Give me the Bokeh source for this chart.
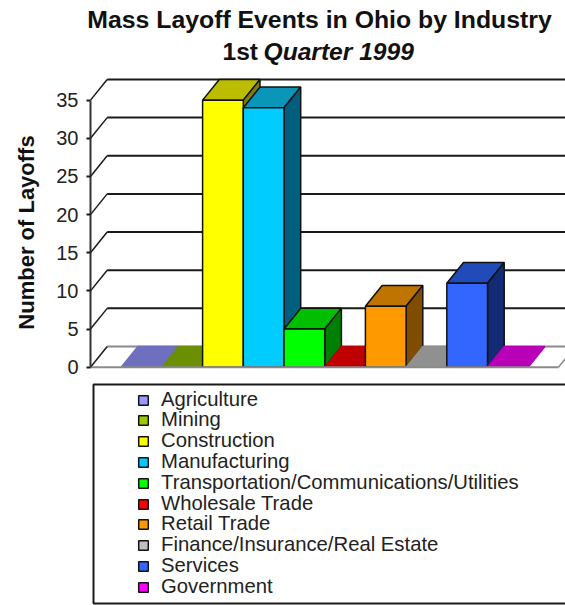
from bokeh.plotting import figure
from bokeh.embed import file_html
from bokeh.resources import INLINE
from bokeh.models import Range1d, Legend, LegendItem, Label, BoxAnnotation, FixedTicker

industries = ["Agriculture", "Mining", "Construction", "Manufacturing",
              "Transportation/Communications/Utilities", "Wholesale Trade",
              "Retail Trade", "Finance/Insurance/Real Estate", "Services", "Government"]
layoffs = [0, 0, 35, 34, 5, 0, 8, 0, 11, 0]
front_colors = ["#9999ff", "#99cc00", "#ffff00", "#00ccff", "#00ff00",
                "#ff0000", "#ff9900", "#c0c0c0", "#3366ff", "#ff00ff"]
top_colors = ["#6f6fbf", "#6b8f00", "#bdbd00", "#0996b8", "#00bf00",
              "#c00000", "#bf7300", "#909090", "#204bb8", "#b800b8"]
side_colors = ["#4d4d80", "#4d6600", "#808000", "#005f7f", "#008000",
               "#800000", "#7f4c00", "#606060", "#132a75", "#800080"]
y_ticks = [0, 5, 10, 15, 20, 25, 30, 35]

# layout, in pixels of the picture
W, H = 565, 605
AX_LEFT, FLOOR_Y = 90, 366.7
BAND, FIRST = 40.7, 120.7
UNIT = 7.63
DEPTH_X, DEPTH_Y = 16.7 / BAND, 20.7 / UNIT
DARK = "#1a1a1a"
GREY = "#8a8a8a"
FONT = "Liberation Sans"


def X(px):
    return (px - FIRST) / BAND


def Y(py):
    return (FLOOR_Y - py) / UNIT


p = figure(width=W, height=H, output_backend="svg", toolbar_location=None,
           x_range=Range1d(X(0), X(W)), y_range=Range1d(Y(H), Y(0)),
           min_border_left=0, min_border_right=0, min_border_top=0, min_border_bottom=0,
           outline_line_color=None, background_fill_color="white")
p.xaxis.visible = False
p.xgrid.visible = False
p.ygrid.visible = False

ax = p.yaxis[0]
ax.fixed_location = X(AX_LEFT)
ax.ticker = FixedTicker(ticks=y_ticks)
ax.bounds = (0, 35)
ax.major_label_text_font = FONT
ax.major_label_text_font_size = "20px"
ax.major_label_text_color = "#222222"
ax.axis_line_color = "#333333"
ax.axis_line_width = 2
ax.major_tick_line_color = DARK
ax.major_tick_line_width = 2
ax.major_tick_in = 0
ax.major_tick_out = 4
ax.minor_tick_line_color = None
ax.major_label_standoff = 8

x0 = X(AX_LEFT)
xe = X(558)
xr = X(W)
# back wall and side-wall lines
for v in y_ticks:
    top = v + DEPTH_Y
    col = GREY if v == 0 else DARK
    p.line([x0 + DEPTH_X, xr], [top, top], line_color=col, line_width=2)
    p.line([x0, x0 + DEPTH_X], [v, top], line_color=DARK, line_width=1.5)
p.line([xe, xr], [0, (W - 558) / BAND / DEPTH_X * DEPTH_Y], line_color=GREY, line_width=1.5)

swatches = []
for i, (name, v) in enumerate(zip(industries, layoffs)):
    edge = "#111111" if v > 0 else top_colors[i]
    p.patch([i, i + 1, i + 1 + DEPTH_X, i + DEPTH_X], [v, v, v + DEPTH_Y, v + DEPTH_Y],
            fill_color=top_colors[i], line_color=edge, line_width=1.5)
    if v > 0:
        p.patch([i + 1, i + 1, i + 1 + DEPTH_X, i + 1 + DEPTH_X], [0, v, v + DEPTH_Y, DEPTH_Y],
                fill_color=side_colors[i], line_color=edge, line_width=1.5)
        p.vbar(x=[i + 0.5], width=1, bottom=0, top=[v], fill_color=front_colors[i],
               line_color="#111111", line_width=1.5)
    # swatch carrier: no mark in the plot, only the legend's key
    swatches.append(p.vbar(x=[float("nan")], width=1, bottom=0, top=[v], fill_color=front_colors[i],
                           line_color="#111111", line_width=1.5))

p.line([x0, xe], [0, 0], line_color=GREY, line_width=2)

# legend frame
p.add_layout(BoxAnnotation(left=X(93), right=X(566), top=Y(384), bottom=Y(603),
                           fill_color="white", fill_alpha=1, line_color=DARK, line_alpha=1,
                           line_width=2, level="overlay"))
# one single-row legend per industry: Bokeh will not set rows closer than the text's own height
for i, (name, r) in enumerate(zip(industries, swatches)):
    center = 399 + 20.8 * i
    p.add_layout(Legend(items=[LegendItem(label=name, renderers=[r])],
                        location=(137, round(H - center - 11.5)), padding=0, margin=0, spacing=0,
                        border_line_color=None, background_fill_alpha=0,
                        glyph_width=12, glyph_height=12, label_standoff=12, label_height=20,
                        label_text_font=FONT, label_text_font_size="20.3px",
                        label_text_color="#222222", level="overlay"))

p.add_layout(Label(x=X(319), y=Y(19), text="Mass Layoff Events in Ohio by Industry", text_font=FONT,
                   text_font_size="24.8px", text_font_style="bold", text_align="center",
                   text_baseline="middle", text_color="#111111"))
p.add_layout(Label(x=X(222), y=Y(51), text="1st", text_font=FONT, text_font_size="24.6px",
                   text_font_style="bold", text_align="left", text_baseline="middle", text_color="#111111"))
p.add_layout(Label(x=X(263), y=Y(51), text="Quarter 1999", text_font=FONT, text_font_size="24.6px",
                   text_font_style="bold italic", text_align="left", text_baseline="middle", text_color="#111111"))
p.add_layout(Label(x=X(26), y=Y(232), text="Number of Layoffs", text_font=FONT, text_font_size="22px",
                   text_font_style="bold", text_align="center", text_baseline="middle",
                   angle=90, angle_units="deg", text_color="#111111"))

open("out.html", "w").write(file_html(p, INLINE))
